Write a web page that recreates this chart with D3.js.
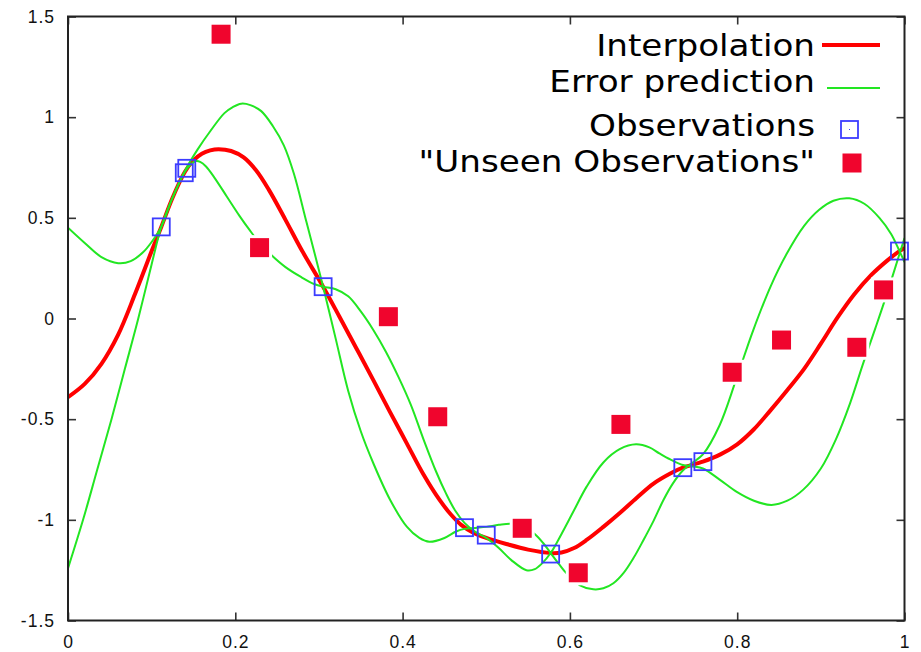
<!DOCTYPE html>
<html>
<head>
<meta charset="utf-8">
<script src="https://cdn.jsdelivr.net/npm/d3@7"></script>
<style>
    body { margin: 0; background: #fff; }
    .tick text { font-family: "Liberation Sans", Arial, sans-serif; font-size: 17.5px; letter-spacing: 1px; fill: #111; }
    .legend text { font-family: "DejaVu Sans", sans-serif; font-size: 30px; fill: #000; }
</style>
</head>
<body>
<svg id="chart" width="921" height="652"></svg>
<script>
// -----------------------------
// data
// -----------------------------

const xTicks = [0, 0.2, 0.4, 0.6, 0.8, 1]
const yTicks = [-1.5, -1, -0.5, 0, 0.5, 1, 1.5]

const legendLabels = ['Interpolation', 'Error prediction', 'Observations', '"Unseen Observations"']

// observations (open blue squares)
const obsX = [0.1115, 0.139, 0.142, 0.305, 0.474, 0.5, 0.577, 0.735, 0.759, 0.994]
const obsY = [0.455, 0.724, 0.746, 0.158, -1.039, -1.076, -1.17, -0.741, -0.711, 0.335]

// "unseen" observations (filled red squares)
const unseenX = [0.183, 0.229, 0.383, 0.442, 0.543, 0.61, 0.661, 0.794, 0.853, 0.943, 0.975]
const unseenY = [1.412, 0.352, 0.009, -0.488, -1.042, -1.263, -0.526, -0.267, -0.107, -0.143, 0.142]

// interpolation curve
const interpX = [0, 0.02, 0.04, 0.06, 0.08, 0.1, 0.1115, 0.125, 0.14, 0.15, 0.16, 0.17, 0.18, 0.195,
    0.21, 0.225, 0.24, 0.26, 0.28, 0.305, 0.325, 0.345, 0.365, 0.385, 0.405, 0.425, 0.444, 0.458, 0.47,
    0.485, 0.5, 0.524, 0.55, 0.577, 0.59, 0.605, 0.62, 0.64, 0.66, 0.68, 0.7, 0.72, 0.735, 0.759,
    0.78, 0.8, 0.82, 0.84, 0.86, 0.88, 0.9, 0.92, 0.94, 0.96, 0.98, 0.994, 1]
const interpY = [-0.391, -0.325, -0.225, -0.08, 0.12, 0.335, 0.455, 0.6, 0.73, 0.785, 0.818, 0.835, 0.841, 0.832,
    0.8, 0.735, 0.64, 0.49, 0.335, 0.158, 0.005, -0.15, -0.306, -0.465, -0.62, -0.775, -0.9, -0.975, -1.025,
    -1.065, -1.09, -1.12, -1.148, -1.165, -1.162, -1.14, -1.1, -1.035, -0.965, -0.89, -0.82, -0.77, -0.741, -0.711,
    -0.675, -0.625, -0.55, -0.455, -0.355, -0.25, -0.125, 0.005, 0.12, 0.215, 0.29, 0.335, 0.35]

// error prediction, first branch (starts high on the left)
const errAX = [0, 0.02, 0.04, 0.06, 0.075, 0.09, 0.1, 0.1115, 0.125, 0.14, 0.148, 0.153, 0.158, 0.165,
    0.175, 0.19, 0.205, 0.217, 0.23, 0.243, 0.26, 0.279, 0.295, 0.305, 0.32, 0.335, 0.35, 0.365, 0.38,
    0.395, 0.41, 0.425, 0.44, 0.452, 0.463, 0.474, 0.487, 0.5, 0.515, 0.53, 0.548, 0.558, 0.567, 0.577,
    0.59, 0.604, 0.62, 0.64, 0.66, 0.679, 0.695, 0.707, 0.72, 0.735, 0.747, 0.759, 0.779, 0.799, 0.82,
    0.841, 0.86, 0.879, 0.9, 0.918, 0.935, 0.95, 0.965, 0.978, 0.994, 1]
const errAY = [0.451, 0.375, 0.305, 0.275, 0.285, 0.33, 0.38, 0.455, 0.6, 0.73, 0.77, 0.782, 0.778, 0.755,
    0.7, 0.605, 0.51, 0.44, 0.37, 0.315, 0.255, 0.205, 0.17, 0.158, 0.145, 0.11, 0.035, -0.057, -0.165,
    -0.29, -0.43, -0.6, -0.76, -0.87, -0.955, -1.015, -1.06, -1.09, -1.14, -1.2, -1.25, -1.245, -1.215, -1.165,
    -1.07, -0.96, -0.835, -0.715, -0.648, -0.625, -0.64, -0.67, -0.7, -0.728, -0.735, -0.745, -0.8, -0.86, -0.905,
    -0.926, -0.905, -0.85, -0.745, -0.6, -0.42, -0.23, -0.05, 0.11, 0.32, 0.4]

// error prediction, second branch (starts low on the left)
const errBX = [0, 0.018, 0.035, 0.052, 0.068, 0.084, 0.1, 0.1115, 0.125, 0.14, 0.155, 0.17, 0.187, 0.197,
    0.207, 0.218, 0.231, 0.245, 0.258, 0.27, 0.285, 0.305, 0.32, 0.335, 0.35, 0.365, 0.385, 0.405, 0.42,
    0.432, 0.45, 0.464, 0.474, 0.487, 0.5, 0.515, 0.53, 0.545, 0.558, 0.568, 0.577, 0.587, 0.596, 0.612,
    0.628, 0.64, 0.652, 0.664, 0.676, 0.688, 0.7, 0.712, 0.723, 0.735, 0.747, 0.759, 0.779, 0.799, 0.819, 0.84,
    0.859, 0.88, 0.898, 0.915, 0.934, 0.952, 0.97, 0.984, 0.994, 1]
const errBY = [-1.241, -1.0, -0.75, -0.5, -0.25, 0.0, 0.27, 0.455, 0.6, 0.735, 0.84, 0.93, 1.02, 1.05,
    1.067, 1.06, 1.03, 0.955, 0.86, 0.72, 0.48, 0.158, -0.1, -0.36, -0.56, -0.719, -0.9, -1.034, -1.09,
    -1.109, -1.09, -1.058, -1.045, -1.04, -1.035, -1.025, -1.02, -1.035, -1.07, -1.115, -1.165, -1.22, -1.266, -1.325,
    -1.345, -1.34, -1.315, -1.265, -1.19, -1.1, -1.005, -0.9, -0.82, -0.755, -0.715, -0.675, -0.53, -0.3, -0.06, 0.16,
    0.32, 0.46, 0.54, 0.585, 0.597, 0.57, 0.5, 0.42, 0.335, 0.28]

// -----------------------------
// scales and frame
// -----------------------------

const colours = {
    interp: '#ff0000',
    err: '#22e622',
    obs: '#3c3cff',
    unseen: '#f0052d',
    frame: '#222'
}

const plot = {left: 68, right: 904.5, top: 16.5, bottom: 620.5}

const xScale = d3.scaleLinear().domain([0, 1]).range([plot.left, plot.right])
const yScale = d3.scaleLinear().domain([-1.5, 1.5]).range([plot.bottom, plot.top])

const svg = d3.select('#chart')

svg.append('defs')
    .append('clipPath')
    .attr('id', 'clip')
    .append('rect')
    .attr('x', plot.left)
    .attr('y', plot.top)
    .attr('width', plot.right - plot.left)
    .attr('height', plot.bottom - plot.top)

// axes: ticks point inward, mirrored on top and right
const styleAxis = g => {
    g.select('.domain').remove()
    g.selectAll('.tick line').attr('stroke', '#333').attr('stroke-width', 1.6)
}

svg.append('g')
    .attr('transform', 'translate(0,' + plot.bottom + ')')
    .call(d3.axisBottom(xScale).tickValues(xTicks).tickSize(-8).tickPadding(15).tickFormat(d => String(d)))
    .call(styleAxis)

svg.append('g')
    .attr('transform', 'translate(0,' + plot.top + ')')
    .call(d3.axisTop(xScale).tickValues(xTicks).tickSize(-8).tickFormat(''))
    .call(styleAxis)

svg.append('g')
    .attr('transform', 'translate(' + plot.left + ',0)')
    .call(d3.axisLeft(yScale).tickValues(yTicks).tickSize(-8).tickPadding(13).tickFormat(d => String(d)))
    .call(styleAxis)

svg.append('g')
    .attr('transform', 'translate(' + plot.right + ',0)')
    .call(d3.axisRight(yScale).tickValues(yTicks).tickSize(-8).tickFormat(''))
    .call(styleAxis)

svg.selectAll('.tick text').attr('font-family', null).attr('font-size', null)

// -----------------------------
// curves
// -----------------------------

const zip = (xs, ys) => xs.map((x, i) => [x, ys[i]])

const line = d3.line()
    .x(d => xScale(d[0]))
    .y(d => yScale(d[1]))
    .curve(d3.curveCatmullRom.alpha(0.5))

const curves = svg.append('g').attr('clip-path', 'url(#clip)')

curves.append('path')
    .datum(zip(interpX, interpY))
    .attr('d', line)
    .attr('fill', 'none')
    .attr('stroke', colours.interp)
    .attr('stroke-width', 4)

curves.selectAll('path.err')
    .data([zip(errAX, errAY), zip(errBX, errBY)])
    .enter()
    .append('path')
    .attr('class', 'err')
    .attr('d', line)
    .attr('fill', 'none')
    .attr('stroke', colours.err)
    .attr('stroke-width', 2)

// -----------------------------
// points
// -----------------------------

const obsSize = 17
const unseenSize = 19

svg.append('g')
    .selectAll('rect')
    .data(zip(obsX, obsY))
    .enter()
    .append('rect')
    .attr('x', d => xScale(d[0]) - obsSize / 2)
    .attr('y', d => yScale(d[1]) - obsSize / 2)
    .attr('width', obsSize)
    .attr('height', obsSize)
    .attr('fill', 'none')
    .attr('stroke', colours.obs)
    .attr('stroke-width', 1.8)

const unseen = svg.append('g')
    .selectAll('g')
    .data(zip(unseenX, unseenY))
    .enter()
    .append('g')
    .attr('transform', d => 'translate(' + xScale(d[0]) + ',' + yScale(d[1]) + ')')

// white halo cuts the lines around each filled square
unseen.append('rect')
    .attr('x', -unseenSize / 2 - 3)
    .attr('y', -unseenSize / 2 - 3)
    .attr('width', unseenSize + 6)
    .attr('height', unseenSize + 6)
    .attr('fill', '#fff')
unseen.append('rect')
    .attr('x', -unseenSize / 2)
    .attr('y', -unseenSize / 2)
    .attr('width', unseenSize)
    .attr('height', unseenSize)
    .attr('fill', colours.unseen)

// frame on top
svg.append('rect')
    .attr('x', plot.left)
    .attr('y', plot.top)
    .attr('width', plot.right - plot.left)
    .attr('height', plot.bottom - plot.top)
    .attr('fill', 'none')
    .attr('stroke', colours.frame)
    .attr('stroke-width', 2)

// -----------------------------
// legend
// -----------------------------

const legendBase = [56, 92, 136, 172]
const legend = svg.append('g').attr('class', 'legend')

legend.selectAll('g.entry')
    .data(legendLabels)
    .enter()
    .append('g')
    .attr('class', 'entry')
    .attr('transform', (d, i) => 'translate(815,' + legendBase[i] + ')')
    .append('text')
    .attr('text-anchor', 'end')
    .attr('transform', 'scale(1.14,1)')
    .text(d => d)

legend.append('line')
    .attr('x1', 822).attr('x2', 880).attr('y1', 45).attr('y2', 45)
    .attr('stroke', colours.interp).attr('stroke-width', 4)

legend.append('line')
    .attr('x1', 827).attr('x2', 880).attr('y1', 88).attr('y2', 88)
    .attr('stroke', colours.err).attr('stroke-width', 2)

legend.append('rect')
    .attr('x', 849.5 - obsSize / 2).attr('y', 129.5 - obsSize / 2)
    .attr('width', obsSize).attr('height', obsSize)
    .attr('fill', 'none').attr('stroke', colours.obs).attr('stroke-width', 1.8)
legend.append('rect')
    .attr('x', 849).attr('y', 129).attr('width', 1).attr('height', 1)
    .attr('fill', colours.obs)

legend.append('rect')
    .attr('x', 852 - unseenSize / 2).attr('y', 163 - unseenSize / 2)
    .attr('width', unseenSize).attr('height', unseenSize)
    .attr('fill', colours.unseen)
</script>
</body>
</html>
